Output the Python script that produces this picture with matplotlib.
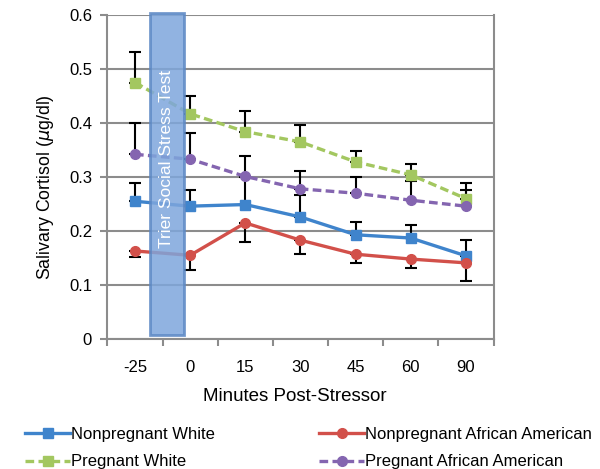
import matplotlib
matplotlib.use("Agg")
import matplotlib.pyplot as plt
from matplotlib.patches import Rectangle

plt.rcParams["font.family"] = ["Liberation Sans", "DejaVu Sans"]

# time points (categorical axis)
times = ["-25", "0", "15", "30", "45", "60", "90"]

# mean salivary cortisol (ug/dl)
nonpreg_white = [0.255, 0.246, 0.249, 0.226, 0.193, 0.187, 0.154]
nonpreg_aa    = [0.163, 0.155, 0.215, 0.183, 0.157, 0.148, 0.141]
preg_white    = [0.475, 0.417, 0.384, 0.365, 0.328, 0.304, 0.260]
preg_aa       = [0.342, 0.333, 0.301, 0.278, 0.270, 0.257, 0.246]

# one-sided error bars (upward for three groups, downward for nonpregnant AA)
err_nonpreg_white = [0.034, 0.030, 0.051, 0.041, 0.024, 0.024, 0.029]
err_nonpreg_aa    = [0.011, 0.027, 0.035, 0.026, 0.017, 0.017, 0.033]
err_preg_white    = [0.056, 0.033, 0.038, 0.031, 0.021, 0.020, 0.029]
err_preg_aa       = [0.058, 0.048, 0.038, 0.033, 0.030, 0.036, 0.030]

BLUE = "#3f84cc"
RED = "#d2504a"
GREEN = "#a3c760"
PURPLE = "#8465b0"
GRID = "#8c8c8c"

fig = plt.figure(figsize=(6.0, 4.69), dpi=100)
ax = fig.add_axes([0.179, 0.2772, 0.6435, 0.6908])
x = list(range(len(times)))
zero = [0] * len(times)

series = [
    ("Nonpregnant White", nonpreg_white, err_nonpreg_white, "up", BLUE, "-", "s"),
    ("Pregnant White", preg_white, err_preg_white, "up", GREEN, (0, (2.6, 1.3)), "s"),
    ("Nonpregnant African American", nonpreg_aa, err_nonpreg_aa, "down", RED, "-", "o"),
    ("Pregnant African American", preg_aa, err_preg_aa, "up", PURPLE, (0, (2.6, 1.3)), "o"),
]

handles = []
for label, vals, err, side, col, ls, mk in series:
    yerr = [zero, err] if side == "up" else [err, zero]
    ax.errorbar(x, vals, yerr=yerr, fmt="none", ecolor="black", elinewidth=1.5,
                capsize=4, capthick=1.5, zorder=2)
    h, = ax.plot(x, vals, color=col, ls=ls, lw=2.4, marker=mk, markersize=7,
                 markeredgecolor=col, zorder=3, label=label)
    handles.append(h)

# stressor window box
ax.add_patch(Rectangle((0.27, 0.007), 0.61, 0.597, facecolor="#7ea6dc",
                       edgecolor="#5c88c4", lw=2, alpha=0.85, zorder=4, clip_on=False))
ax.text(0.575, 0.333, "Trier Social Stress Test", rotation=90, color="white",
        fontsize=12.5, ha="center", va="center", zorder=5)

ax.set_xlim(-0.5, 6.5)
ax.set_ylim(0, 0.6)
ax.set_xticks(x)
ax.set_xticklabels(times, fontsize=12)
ax.set_xticks([i + 0.5 for i in range(-1, 7)], minor=True)
ax.tick_params(axis="x", which="major", length=0, pad=15)
ax.tick_params(axis="x", which="minor", length=5, width=1.5, color=GRID, direction="out")
ax.set_yticks([0, 0.1, 0.2, 0.3, 0.4, 0.5, 0.6])
ax.set_yticklabels(["0", "0.1", "0.2", "0.3", "0.4", "0.5", "0.6"], fontsize=12)
ax.tick_params(axis="y", length=5, width=1.5, color=GRID, direction="out", pad=6)
ax.grid(True, axis="y", color=GRID, lw=1.5)
ax.set_axisbelow(True)
for side in ["left", "bottom", "right"]:
    ax.spines[side].set_color(GRID)
    ax.spines[side].set_linewidth(1.5)
ax.spines["top"].set_visible(False)

ax.set_xlabel("Minutes Post-Stressor", fontsize=13.5)
ax.xaxis.set_label_coords(0.485, -0.152)
ax.set_ylabel(r"Salivary Cortisol ($\mu$g/dl)", fontsize=12.8)
ax.yaxis.set_label_coords(-0.134, 0.469)

fig.legend(handles=handles, loc="lower left", bbox_to_anchor=(0.017, -0.033), ncol=2,
           frameon=False, fontsize=12, handlelength=2.7, handletextpad=0.05,
           columnspacing=6.25, labelspacing=0.75)

fig.savefig("out.png", dpi=100)
